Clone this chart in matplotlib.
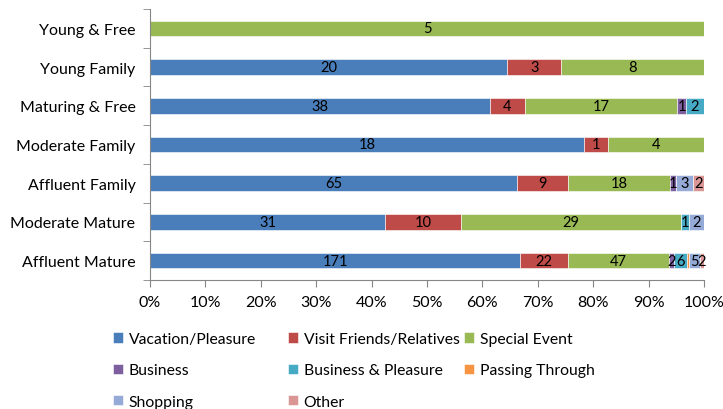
import matplotlib as mpl
mpl.use("agg")
import matplotlib.pyplot as plt
import numpy as np

plt.rcParams['font.family'] = ['Lato', 'DejaVu Sans']

segments = ['Young & Free', 'Young Family', 'Maturing & Free', 'Moderate Family',
            'Affluent Family', 'Moderate Mature', 'Affluent Mature']
categories = ['Vacation/Pleasure', 'Visit Friends/Relatives', 'Special Event', 'Business',
              'Business & Pleasure', 'Passing Through', 'Shopping', 'Other']

# counts per segment, one list per category
vacation   = [0, 20, 38, 18, 65, 31, 171]
visit      = [0, 3, 4, 1, 9, 10, 22]
special    = [5, 8, 17, 4, 18, 29, 47]
business   = [0, 0, 1, 0, 1, 0, 2]
bus_pleas  = [0, 0, 2, 0, 0, 1, 6]
passing    = [0, 0, 0, 0, 0, 0, 1]
shopping   = [0, 0, 0, 0, 3, 2, 5]
other      = [0, 0, 0, 0, 2, 0, 2]

colors = ['#4A7EBB', '#BE4B48', '#98B954', '#7D5FA0', '#46AAC5', '#F59443', '#95AAD6', '#D99694']

series = [vacation, visit, special, business, bus_pleas, passing, shopping, other]
data = np.array(series, dtype=float)
totals = data.sum(axis=0)
pct = data / totals * 100

fig = plt.figure(figsize=(7.23, 4.10), dpi=100)
ax = fig.add_axes([150/723, 1 - 281/410, 554/723, 271/410])

y = np.arange(len(segments))[::-1]
left = np.zeros(len(segments))
handles = []
for i, cat in enumerate(categories):
    b = ax.barh(y, pct[i], left=left, height=0.4, color=colors[i],
                edgecolor='white', linewidth=0.4, label=cat)
    handles.append(b)
    for j in range(len(segments)):
        v = data[i, j]
        # passing-through label is hidden in the original
        if v > 0 and cat != 'Passing Through':
            ax.text(left[j] + pct[i, j] / 2, y[j], str(int(v)), ha='center', va='center',
                    fontsize=10.5, color='black')
    left += pct[i]

ax.set_xlim(0, 100)
ax.set_ylim(-0.5, len(segments) - 0.5)
ax.set_xticks(np.arange(0, 101, 10))
ax.set_xticklabels([f'{t}%' for t in range(0, 101, 10)], fontsize=11.5)
ax.set_yticks(y)
ax.set_yticklabels(segments, fontsize=11.5)
ax.set_yticks(np.arange(-0.5, len(segments)), minor=True)
ax.tick_params(axis='y', which='major', length=0, pad=10.5)
ax.tick_params(axis='y', which='minor', length=5, color='#868686')
ax.tick_params(axis='x', length=5, color='#868686', pad=6)
for s in ['top', 'right']:
    ax.spines[s].set_visible(False)
for s in ['left', 'bottom']:
    ax.spines[s].set_color('#868686')

# three legend columns, placed like the original (rows read left to right)
col_x = [113, 288, 464]
for c in range(3):
    idx = list(range(c, len(categories), 3))
    fig.legend([handles[k] for k in idx], [categories[k] for k in idx],
               ncol=1, loc='upper left', bbox_to_anchor=(col_x[c]/723, 1 - 333/410),
               frameon=False, fontsize=11.3, handlelength=0.65, handleheight=0.65,
               handletextpad=0.35, labelspacing=1.1, borderaxespad=0, borderpad=0)

plt.savefig('out.png', dpi=100)
